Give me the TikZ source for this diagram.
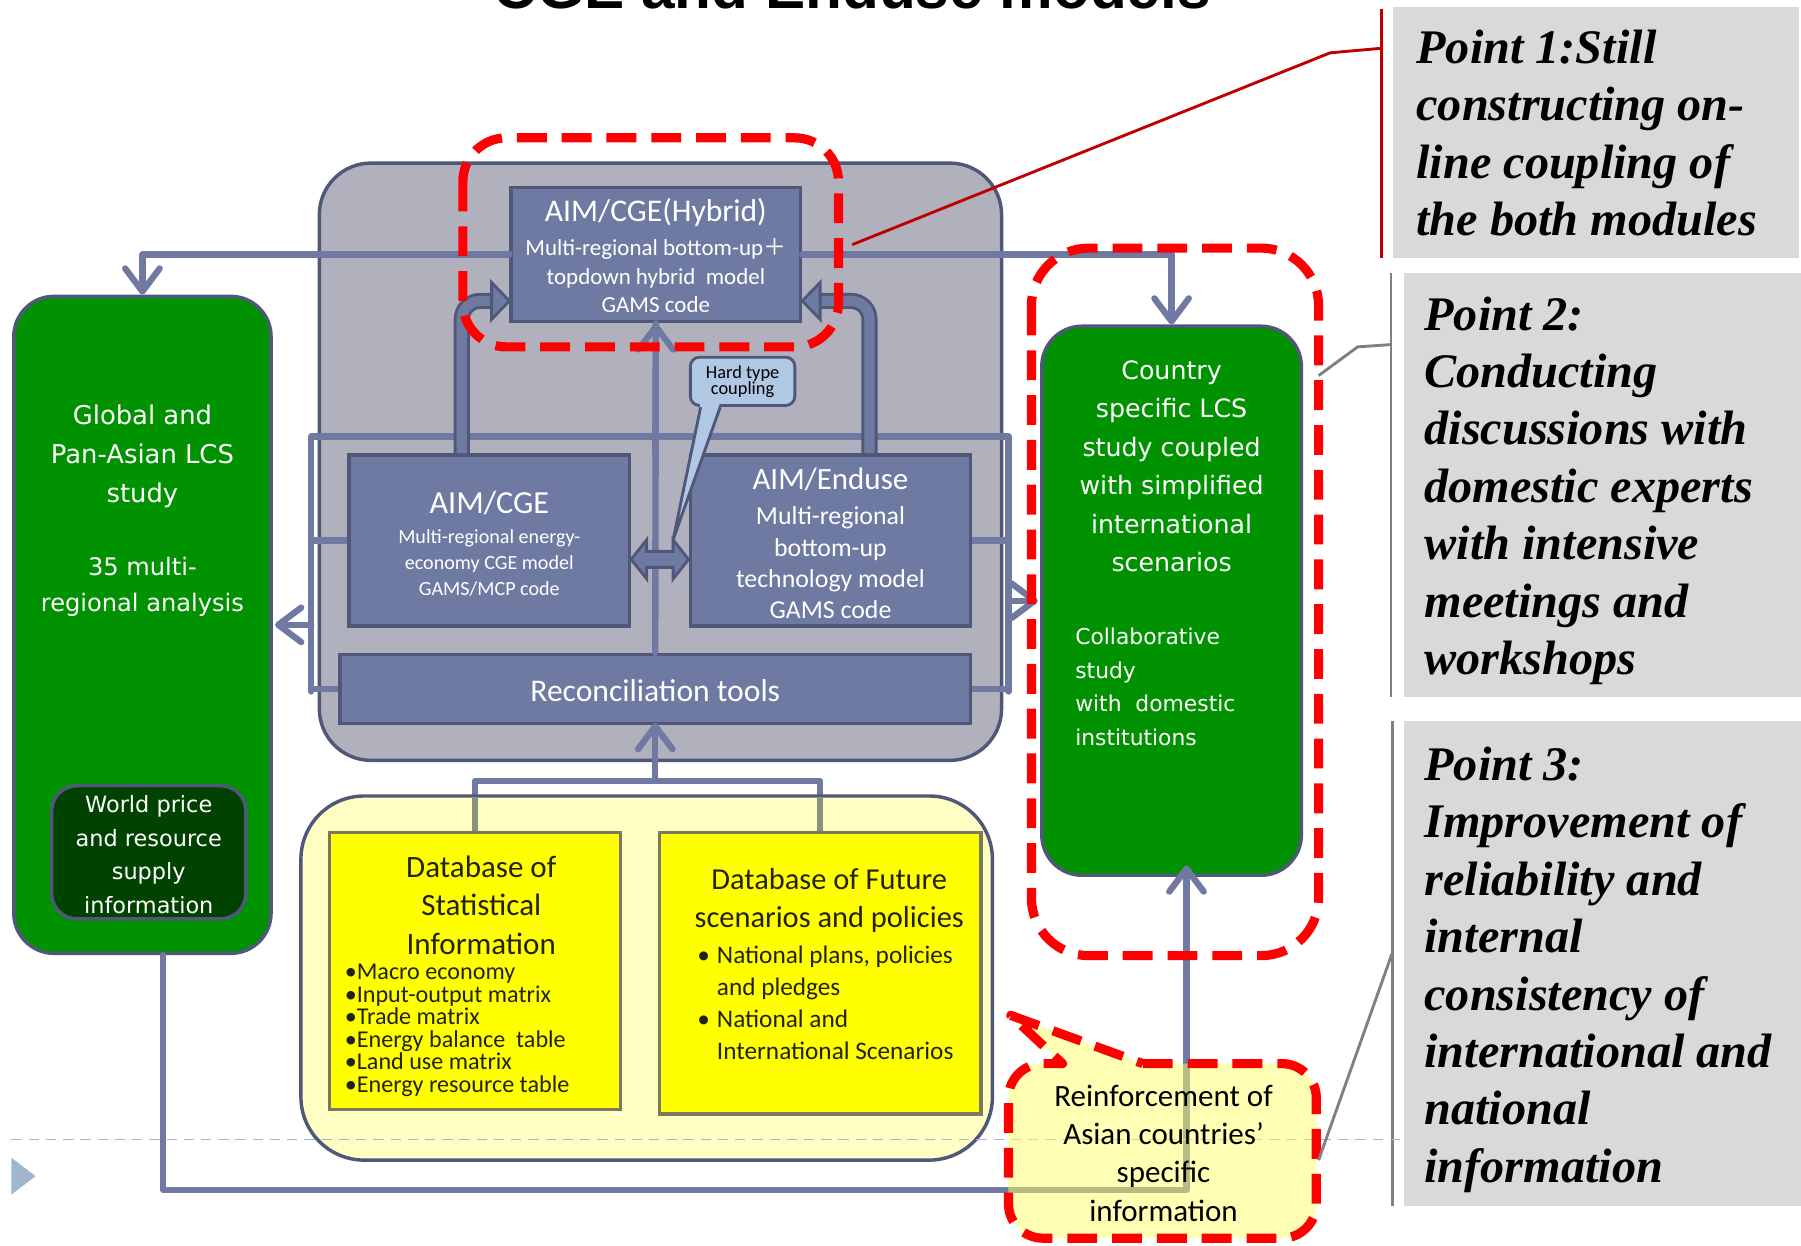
\documentclass[tikz,border=0pt]{standalone}
\usepackage{fontspec}
\setmainfont{Carlito}
\newfontfamily\gill{Carlito}
\newfontfamily\wide{DejaVu Sans}
\newfontfamily\pointf{Liberation Serif}
\newfontfamily\titlef{Liberation Sans}
\newfontfamily\cjk{Noto Sans CJK JP}
\usetikzlibrary{arrows.meta}
\definecolor{slate}{RGB}{112,121,161}
\definecolor{boxfill}{RGB}{111,122,162}
\definecolor{boxedge}{RGB}{80,88,122}
\definecolor{graybg}{RGB}{177,177,190}
\definecolor{lgreen}{RGB}{0,146,0}
\definecolor{dgreen}{RGB}{0,66,0}
\definecolor{lyellow}{RGB}{255,255,196}
\definecolor{rfill}{RGB}{255,255,105}
\definecolor{yel}{RGB}{255,255,0}
\definecolor{yeledge}{RGB}{122,122,92}
\definecolor{pgray}{RGB}{217,217,217}
\definecolor{pline}{RGB}{128,128,128}
\definecolor{dred}{RGB}{192,0,0}
\definecolor{callblue}{RGB}{176,200,228}
\definecolor{dashblue}{RGB}{160,182,204}
\definecolor{olivel}{RGB}{140,145,125}
\definecolor{dbtext}{RGB}{34,34,20}
\begin{document}
\begin{tikzpicture}[x=1pt,y=-1pt,
  conn/.style={draw=slate,line width=5.5pt,line cap=round,line join=round},
  tipped/.style={-{Straight Barb[length=20pt,width=30pt,round]}},
  slatebox/.style={draw=boxedge,fill=boxfill,line width=3pt,inner sep=0pt},
  greenbox/.style={draw=boxedge,fill=lgreen,line width=3pt,inner sep=0pt,rounded corners=35pt},
  yelbox/.style={draw=yeledge,fill=yel,line width=3pt,inner sep=0pt},
  pointbox/.style={fill=pgray,inner sep=0pt},
  reddash/.style={draw=red,line width=8pt,dash pattern=on 26pt off 13pt},
  ublock/.style={draw=boxedge,line width=2.5pt,double=boxfill,double distance=9pt,rounded corners=16pt},
  headfill/.style={draw=boxedge,fill=boxfill,line width=2.5pt,line join=miter},
  wtext/.style={text=white,inner sep=0pt,align=center},
  btext/.style={text=dbtext,inner sep=0pt,align=center},
  ptext/.style={anchor=north west,inner sep=0pt,align=left,font=\pointf\bfseries\itshape\fontsize{42pt}{50pt}\selectfont}]
\useasboundingbox (0,0) rectangle (1568,1084);
\clip (0,0) rectangle (1568,1084);
\fill[white] (0,0) rectangle (1568,1084);

% title (cut off at top, as in the reference)
\node[anchor=base,inner sep=0pt,font=\titlef\bfseries\fontsize{52.5pt}{60pt}\selectfont] (title) at (742,7) {CGE and Enduse models};

% point boxes
\node[pointbox,minimum width=353pt,minimum height=219pt] (p1) at (1389.5,115.5) {};
\node[pointbox,minimum width=346pt,minimum height=369pt] (p2) at (1395,422.5) {};
\node[pointbox,minimum width=346pt,minimum height=422pt] (p3) at (1395,839) {};
\node[ptext] (p1t) at (1233,26) {Point 1:Still\\constructing on-\\line coupling of\\the both modules};
\node[ptext] (p2t) at (1240,258) {Point 2:\\Conducting\\discussions with\\domestic experts\\with intensive\\meetings and\\workshops};
\node[ptext] (p3t) at (1240,650) {Point 3:\\Improvement of\\reliability and\\internal\\consistency of\\international and\\national\\information};
\coordinate (b1a) at (1203,8); \coordinate (b1b) at (1203,225);
\coordinate (b2a) at (1211,238); \coordinate (b2b) at (1211,607);
\coordinate (b3a) at (1212,628); \coordinate (b3b) at (1212,1050);
\draw[dred,line width=2.5pt] (b1a) -- (b1b);
\draw[pline,line width=2.5pt] (b2a) -- (b2b);
\draw[pline,line width=2.5pt] (b3a) -- (b3b);

% slide decoration
\coordinate (dl1) at (10,992); \coordinate (dl2) at (1222,992);
\fill[dashblue] (10,1008) -- (31,1024) -- (10,1040) -- cycle;

% main gray box
\node[draw=boxedge,fill=graybg,line width=3pt,rounded corners=45pt,inner sep=0pt,minimum width=594pt,minimum height=520pt] (main) at (575,402) {};

% green boxes
\node[greenbox,minimum width=224pt,minimum height=572pt] (glob) at (124,544) {};
\node[draw=boxedge,fill=dgreen,line width=3pt,rounded corners=22pt,inner sep=0pt,minimum width=169pt,minimum height=116pt] (world) at (129.5,742) {};
\node[greenbox,minimum width=226pt,minimum height=478pt] (ctry) at (1020,523) {};

% inner boxes
\node[slatebox,minimum width=252pt,minimum height=117pt] (hyb) at (571,221.5) {};
\node[slatebox,minimum width=244pt,minimum height=149pt] (cge) at (426,470.5) {};
\node[slatebox,minimum width=244pt,minimum height=149pt] (end) at (723,470.5) {};
\node[slatebox,minimum width=549pt,minimum height=60pt] (recon) at (570.5,600) {};

% connectors from hybrid
\draw[conn,tipped] (hyb.west) -| (glob.north);
\draw[conn,tipped] (hyb.east) -| (ctry.north);
\draw[conn,tipped] (recon.north) -- (hyb.south);

% frame around CGE / Enduse / recon
\coordinate (fl1) at (271,380); \coordinate (fr1) at (878,380);
\coordinate (fl2) at (271,602); \coordinate (fr2) at (878,602);
\draw[conn] (fl2) -- (fl1) -- (fr1) -- (fr2);
\draw[conn] (cge.west) -- (cge.west -| fl1);
\draw[conn] (recon.west) -- (recon.west -| fl1);
\draw[conn] (end.east) -- (end.east -| fr1);
\draw[conn] (recon.east) -- (recon.east -| fr1);
\draw[conn,tipped] (glob.east -| fl1) -- ([xshift=2pt]glob.east);
\draw[conn,tipped] (ctry.west -| fr1) -- ([xshift=-2pt]ctry.west);

% redraw inner boxes over frame lines
\node[slatebox,minimum width=244pt,minimum height=149pt] (cge2) at (426,470.5) {};
\node[slatebox,minimum width=244pt,minimum height=149pt] (end2) at (723,470.5) {};
\node[slatebox,minimum width=549pt,minimum height=60pt] (recon2) at (570.5,600) {};
\draw[conn] (recon.north) -- (cge.east -| recon.north);
\draw[conn] (cge.north -| recon.north) -- (hyb.south);

% U-shaped block arrows
\coordinate (ul) at (428,262);
\coordinate (ur) at (714,262);
\draw[ublock] ([xshift=-24pt]cge.north) |- (ul);
\draw[headfill] (428,246) -- (hyb.west |- ul) -- (428,278) -- cycle;
\draw[ublock] ([xshift=34pt]end.north) |- (ur);
\draw[headfill] (714,246) -- (hyb.east |- ur) -- (714,278) -- cycle;

% double block arrow between CGE and Enduse
\draw[headfill] (cge.east |- 0,487) -- (563,470) -- (563,480) -- (586,480) -- (586,470) -- (end.west |- 0,487) -- (586,504) -- (586,494) -- (563,494) -- (563,504) -- cycle;

% text in slate boxes
\node[wtext,font=\gill\fontsize{27.5pt}{30pt}\selectfont] (hybt) at (571,185) {AIM/CGE(Hybrid)};
\node[wtext,font=\gill\fontsize{20pt}{25pt}\selectfont] (hybb) at (571,240) {Multi-regional bottom-up{\cjk ＋}\\topdown hybrid\ \ model\\GAMS code};
\node[wtext,font=\gill\fontsize{28pt}{30pt}\selectfont] (cget) at (426,438) {AIM/CGE};
\node[wtext,font=\gill\fontsize{17.5pt}{22.5pt}\selectfont] (cgeb) at (426,490) {Multi-regional energy-\\economy CGE model\\GAMS/MCP code};
\node[wtext,font=\gill\fontsize{27pt}{30pt}\selectfont] (endt) at (723,417) {AIM/Enduse};
\node[wtext,font=\gill\fontsize{22.5pt}{27.3pt}\selectfont] (endb) at (723,490) {Multi-regional\\bottom-up\\technology model\\GAMS code};
\node[wtext,font=\gill\fontsize{27.5pt}{30pt}\selectfont] (recont) at (570.5,601) {Reconciliation tools};

% hard type coupling callout
\node[draw=boxedge,fill=callblue,line width=2.5pt,rounded corners=8pt,inner sep=0pt,minimum width=91pt,minimum height=42pt] (hard) at (646.5,332) {};
\coordinate (htip) at (586,470);
\fill[callblue] (610,350) -- (htip) -- (627,350) -- cycle;
\draw[boxedge,line width=2.5pt,line join=round] (610,354.5) -- (htip) -- (627,354.5);
\node[btext,text=black,font=\gill\fontsize{16pt}{14pt}\selectfont] (hardt) at (646.5,332) {Hard type\\coupling};

% green box texts
\node[wtext,font=\wide\fontsize{22.5pt}{34pt}\selectfont] (globt) at (124,397) {Global and\\Pan-Asian LCS\\study};
\node[wtext,font=\wide\fontsize{21pt}{31pt}\selectfont] (globs) at (124,511) {35 multi-\\regional analysis};
\node[wtext,font=\wide\fontsize{19.5pt}{29.3pt}\selectfont] (worldt) at (129.5,744) {World price\\and resource\\supply\\information};
\node[wtext,font=\wide\fontsize{22pt}{33.4pt}\selectfont] (ctryt) at (1020,406) {Country\\specific LCS\\study coupled\\with simplified\\international\\scenarios};
\node[wtext,align=left,anchor=west,font=\wide\fontsize{19pt}{29.3pt}\selectfont] (collab) at (936,598) {Collaborative\\study\\with\ \ domestic\\institutions};

% bracket from databases to reconciliation
\coordinate (jn) at (570.5,680);
\draw[conn] (413.5,725) -- (413.5,680) -- (714,680) -- (714,725);
\draw[conn,tipped] (jn) -- ([yshift=2pt]recon.south);

% yellow database area
\node[draw=boxedge,fill=lyellow,line width=3pt,rounded corners=55pt,inner sep=0pt,minimum width=602pt,minimum height=317pt] (ybig) at (563,851.5) {};
\draw[olivel,line width=5.5pt] (413.5,694.5) -- (413.5,725);
\draw[olivel,line width=5.5pt] (714,694.5) -- (714,725);
\node[yelbox,minimum width=253pt,minimum height=241pt] (stat) at (413.5,845.5) {};
\node[yelbox,minimum width=280pt,minimum height=245pt] (fut) at (714,847.5) {};
\node[btext,font=\gill\fontsize{27pt}{33.5pt}\selectfont] (statt) at (419,788) {Database of\\Statistical\\Information};
\node[btext,align=left,anchor=west,font=\gill\fontsize{21pt}{19.6pt}\selectfont] (statb) at (300,897) {•Macro economy\\•Input-output matrix\\•Trade matrix\\•Energy balance\ \ table\\•Land use matrix\\•Energy resource table};
\node[btext,font=\gill\fontsize{26.5pt}{33pt}\selectfont] (futt) at (722,784) {Database of Future\\scenarios and policies};
\node[btext,align=left,anchor=west,font=\gill\fontsize{22pt}{28pt}\selectfont] (futb) at (607,873) {\makebox[17pt][l]{•}National plans, policies\\\hspace*{17pt}and pledges\\\makebox[17pt][l]{•}National and\\\hspace*{17pt}International Scenarios};

% bottom loop connector
\coordinate (lp1) at (142,1036); \coordinate (lp2) at (1033,1036);
\draw[conn,tipped] ([xshift=18pt]glob.south) -- (lp1) -- (lp2) -- ([xshift=13pt,yshift=10pt]ctry.south);

% dashed slide line
\draw[dashblue,line width=1.3pt,dash pattern=on 9pt off 6pt] (dl1) -- (dl2);

% red dashed highlights
\draw[reddash,rounded corners=38pt] (403,120) rectangle (730,302);
\draw[reddash,rounded corners=50pt] (898,216) rectangle (1148,832);

% reinforcement callout
\coordinate (rtip) at (880,884);
\path[fill=rfill,fill opacity=0.5] (995,926) [rounded corners=30pt] -- (1146,926) -- (1146,1078) -- (878,1078) -- (878,926) [sharp corners] -- (925,926) -- (rtip) -- cycle;
\draw[reddash,line join=round] (995,926) [rounded corners=30pt] -- (1146,926) -- (1146,1078) -- (878,1078) -- (878,926) [sharp corners] -- (925,926) -- (rtip) -- cycle;
\node[btext,text=black,font=\gill\fontsize{27pt}{33.3pt}\selectfont] (reinf) at (1013,1004) {Reinforcement of\\Asian countries’\\specific\\information};

% point connectors
\coordinate (p1s) at (742,213);
\draw[dred,line width=2.5pt] (p1s) -- (1158,46) -- (b1a |- 0,42);
\coordinate (p2s) at (1148,327);
\draw[pline,line width=2.5pt] (p2s) -- (1182,302) -- (b2a |- 0,300);
\coordinate (p3s) at (1148,1010);
\draw[pline,line width=2.5pt] (p3s) -- (b3a |- 0,830);
\end{tikzpicture}
\end{document}
